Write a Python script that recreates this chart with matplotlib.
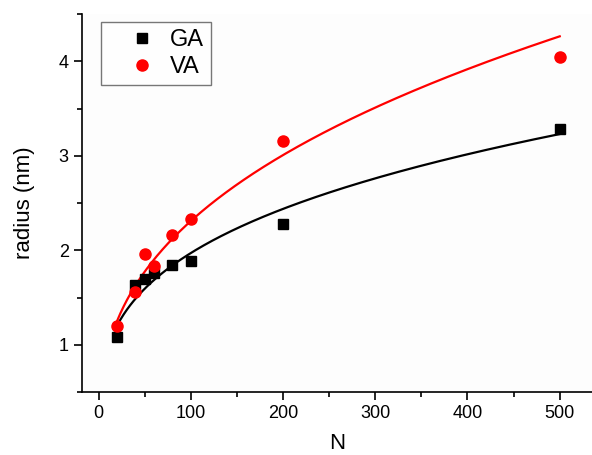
import numpy as np
import matplotlib
matplotlib.use("Agg")
import matplotlib.pyplot as plt

plt.rcParams['font.family'] = ['Liberation Sans', 'DejaVu Sans']

N_vals = [20, 40, 50, 60, 80, 100, 200, 500]
ga_radius = [1.08, 1.63, 1.70, 1.76, 1.84, 1.89, 2.28, 3.28]
va_radius = [1.20, 1.56, 1.96, 1.83, 2.16, 2.33, 3.16, 4.04]

x_ticks = [0, 100, 200, 300, 400, 500]
y_ticks = [1, 2, 3, 4]

fig = plt.figure(figsize=(5.92, 4.55), dpi=100)
ax = fig.add_axes([82/592, 1 - 392/455, 510/592, (392 - 14)/455])
ax.set_facecolor('#fdfdfd')

x = np.array(N_vals, float)

def powfit(xv, yv):
    b, ln_a = np.polyfit(np.log(xv), np.log(yv), 1)
    return np.exp(ln_a), b

xx = np.linspace(20, 500, 400)
for yv, col in [(ga_radius, 'black'), (va_radius, 'red')]:
    a, b = powfit(x, np.array(yv))
    ax.plot(xx, a * xx ** b, color=col, lw=1.6, zorder=2)

ax.plot(N_vals, ga_radius, 's', color='black', ms=7, label='GA', zorder=3, ls='none')
ax.plot(N_vals, va_radius, 'o', color='red', ms=8, label='VA', zorder=3, ls='none')

ax.set_xlim(-18, 535)
ax.set_ylim(0.5, 4.5)
ax.set_xticks(x_ticks)
ax.set_yticks(y_ticks)
ax.set_xticks(np.arange(50, 535, 100), minor=True)
ax.set_yticks([0.5, 1.5, 2.5, 3.5, 4.5], minor=True)
ax.tick_params(which='major', length=6, width=1.2, labelsize=13, direction='out')
ax.tick_params(which='minor', length=3.5, width=1.2, direction='out')
for s in ['top', 'right']:
    ax.spines[s].set_visible(False)
for s in ['left', 'bottom']:
    ax.spines[s].set_linewidth(1.2)

ax.set_xlabel('N', fontsize=16, labelpad=8)
ax.set_ylabel('radius (nm)', fontsize=16, labelpad=17)

leg = ax.legend(loc='upper left', bbox_to_anchor=(19/510, 1 - 8/378), borderaxespad=0,
                fontsize=17, frameon=True, fancybox=False, edgecolor='#555555',
                handlelength=2.9, handletextpad=-0.3, borderpad=0.3, labelspacing=0.2,
                markerfirst=True)
leg.get_frame().set_linewidth(1.0)
leg.get_frame().set_facecolor('white')

fig.savefig('out.png', dpi=100, facecolor='white')
